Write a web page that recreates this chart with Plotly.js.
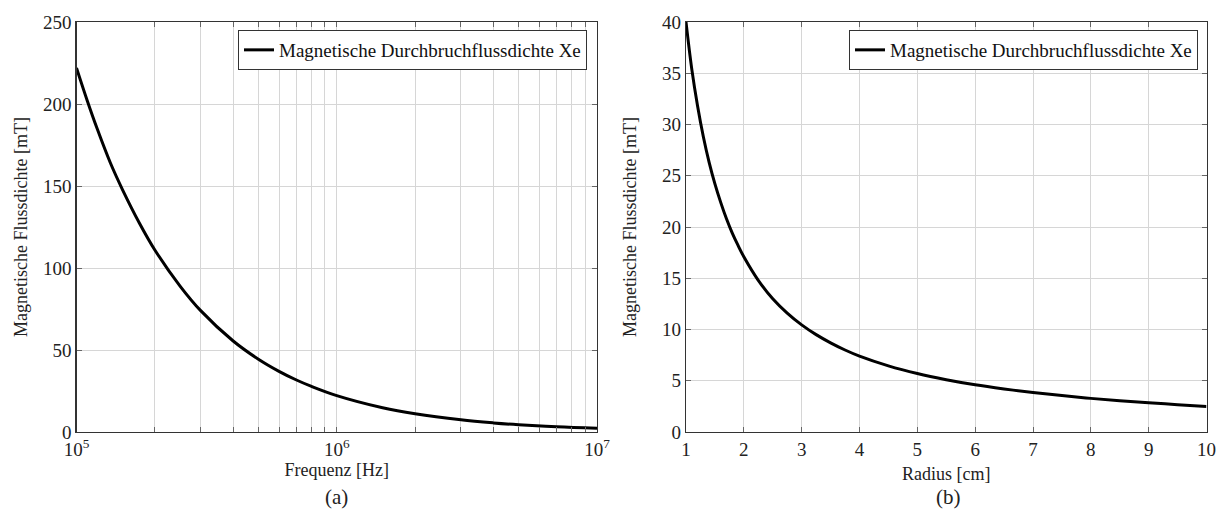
<!DOCTYPE html>
<html>
<head>
<meta charset="utf-8">
<script src="https://cdn.plot.ly/plotly-3.0.1.min.js"></script>
<style>html,body{margin:0;padding:0;background:#fff;}#chart{width:1218px;height:524px;}</style>
</head>
<body>
<div id="chart"></div>
<script>
// Panel (a): magnetic breakdown flux density vs frequency
const freqHz = [1e5, 1.1e5, 1.2e5, 1.35e5, 1.5e5, 1.75e5, 2e5, 2.5e5, 3e5, 4e5, 5e5, 6e5, 7e5, 8e5, 1e6, 1.5e6, 2e6, 3e6, 4e6, 5e6, 7e6, 1e7];
const fluxA_mT = [222, 202, 185, 164, 148, 127, 111, 89, 74, 55.5, 44.4, 37, 31.7, 27.8, 22.2, 14.8, 11.1, 7.4, 5.55, 4.44, 3.17, 2.22];

// Panel (b): magnetic breakdown flux density vs radius
const radiusCm = [1, 1.1, 1.2, 1.3, 1.4, 1.5, 1.6, 1.7, 1.8, 1.9, 2, 2.25, 2.5, 2.75, 3, 3.25, 3.5, 3.75, 4, 4.5, 5, 5.5, 6, 6.5, 7, 7.5, 8, 8.5, 9, 9.5, 10];
const fluxB_mT = [40, 35.4, 31.8, 28.8, 26.3, 24.2, 22.4, 20.8, 19.4, 18.2, 17.1, 14.8, 13.0, 11.6, 10.45, 9.5, 8.7, 8.0, 7.4, 6.45, 5.7, 5.1, 4.6, 4.2, 3.85, 3.55, 3.28, 3.05, 2.85, 2.67, 2.5];

const seriesName = "Magnetische Durchbruchflussdichte Xe";
const xTitleA = "Frequenz [Hz]";
const xTitleB = "Radius [cm]";
const yTitle = "Magnetische Flussdichte [mT]";
const logTickVals = [];
const logTickText = [];
[1e5, 1e6].forEach(d => { for (let k = 1; k <= 9; k++) { logTickVals.push(k * d); logTickText.push(k === 1 ? (d === 1e5 ? "10<sup>5</sup>" : "10<sup>6</sup>") : ""); } });
logTickVals.push(1e7); logTickText.push("10<sup>7</sup>");

const FONT = "Liberation Serif, Times New Roman, serif";
const tickFont = {family: FONT, size: 19, color: "#222"};
const titleFont = {family: FONT, size: 18, color: "#222"};

const traces = [
  {x: freqHz, y: fluxA_mT, type: "scatter", mode: "lines", name: seriesName,
   line: {color: "#000", width: 3, shape: "spline"}, xaxis: "x", yaxis: "y", legend: "legend"},
  {x: radiusCm, y: fluxB_mT, type: "scatter", mode: "lines", name: seriesName,
   line: {color: "#000", width: 3, shape: "spline"}, xaxis: "x2", yaxis: "y2", legend: "legend2"}
];

const axisCommon = {
  showline: true, linecolor: "#333", linewidth: 1.3, mirror: "ticks",
  ticks: "inside", ticklen: 5, tickcolor: "#666", tickwidth: 1,
  showgrid: true, gridcolor: "#d6d6d6", gridwidth: 1,
  zeroline: false, tickfont: tickFont
};

const yDom = [1 - 432/524, 1 - 22/524];

const layout = {
  width: 1218, height: 524,
  margin: {l: 0, r: 0, t: 0, b: 0},
  paper_bgcolor: "#fff", plot_bgcolor: "#fff",
  font: {family: FONT, color: "#222"},
  xaxis: Object.assign({}, axisCommon, {
    type: "log", domain: [76.5/1218, 597/1218], range: [5, 7],
    tickmode: "array", tickvals: logTickVals, ticktext: logTickText,
    anchor: "y",
    title: {text: xTitleA, font: titleFont, standoff: 2}
  }),
  yaxis: Object.assign({}, axisCommon, {
    domain: yDom, range: [0, 250], tickvals: [0, 50, 100, 150, 200, 250],
    anchor: "x", title: {text: yTitle, font: titleFont, standoff: 10}
  }),
  xaxis2: Object.assign({}, axisCommon, {
    domain: [686/1218, 1206.5/1218], range: [1, 10], tickvals: [1,2,3,4,5,6,7,8,9,10],
    anchor: "y2", title: {text: xTitleB, font: titleFont, standoff: 8}
  }),
  yaxis2: Object.assign({}, axisCommon, {
    domain: yDom, range: [0, 40], tickvals: [0,5,10,15,20,25,30,35,40],
    anchor: "x2", title: {text: yTitle, font: titleFont, standoff: 20}
  }),
  legend: {x: 587/1218, y: 1 - 30/524, xanchor: "right", yanchor: "top",
    bgcolor: "#fff", bordercolor: "#333", borderwidth: 1,
    font: {family: FONT, size: 19, color: "#111"}, itemwidth: 30},
  legend2: {x: 1198/1218, y: 1 - 30/524, xanchor: "right", yanchor: "top",
    bgcolor: "#fff", bordercolor: "#333", borderwidth: 1,
    font: {family: FONT, size: 19, color: "#111"}, itemwidth: 30},
  annotations: [
    {text: "(a)", x: 336/1218, y: 1 - 497/524, xref: "paper", yref: "paper",
     xanchor: "center", yanchor: "middle",
     showarrow: false, font: {family: FONT, size: 21, color: "#222"}},
    {text: "(b)", x: 948/1218, y: 1 - 497/524, xref: "paper", yref: "paper",
     xanchor: "center", yanchor: "middle",
     showarrow: false, font: {family: FONT, size: 21, color: "#222"}}
  ],
  showlegend: true
};

Plotly.newPlot("chart", traces, layout, {displayModeBar: false, staticPlot: true});
</script>
</body>
</html>
